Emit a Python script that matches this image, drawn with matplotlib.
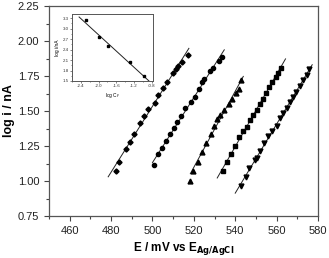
import numpy as np
import matplotlib
matplotlib.use("Agg")
import matplotlib.pyplot as plt
from matplotlib.ticker import MultipleLocator

plt.rcParams['font.family'] = ['Liberation Sans', 'DejaVu Sans']

# Series 1 (diamonds)
e1 = [482.2, 484.0, 487.2, 489.0, 490.9, 494.0, 495.9, 498.0, 501.2, 502.8,
      505.1, 507.0, 509.9, 511.5, 512.5, 514.3, 517.0]
l1 = [1.071, 1.134, 1.226, 1.281, 1.336, 1.414, 1.464, 1.512, 1.559, 1.612,
      1.664, 1.709, 1.771, 1.802, 1.819, 1.852, 1.902]
# Series 2 (circles)
e2 = [500.7, 502.8, 504.7, 506.5, 508.5, 510.4, 512.0, 513.9, 515.8, 518.6,
      520.4, 522.5, 524.1, 525.0, 527.8, 529.4, 532.0, 533.7]
l2 = [1.114, 1.191, 1.234, 1.286, 1.336, 1.376, 1.421, 1.466, 1.519, 1.566,
      1.600, 1.655, 1.705, 1.729, 1.786, 1.805, 1.857, 1.888]
# Series 3 (triangles up)
e3 = [518.2, 519.7, 521.8, 523.8, 525.7, 528.1, 529.7, 531.3, 532.8, 534.7,
      536.8, 538.6, 540.3, 541.8, 542.9]
l3 = [1.000, 1.074, 1.138, 1.209, 1.274, 1.336, 1.393, 1.443, 1.471, 1.507,
      1.550, 1.588, 1.626, 1.655, 1.721]
# Series 4 (squares)
e4 = [534.2, 536.1, 537.9, 539.9, 541.8, 543.6, 545.5, 547.1, 548.7, 550.3,
      551.9, 553.2, 554.8, 556.4, 557.7, 559.5, 560.8, 561.9]
l4 = [1.074, 1.134, 1.190, 1.250, 1.312, 1.359, 1.388, 1.436, 1.471, 1.507,
      1.550, 1.584, 1.626, 1.669, 1.709, 1.745, 1.774, 1.805]
# Series 5 (triangles down)
e5 = [542.8, 545.2, 546.8, 549.5, 550.6, 551.9, 553.9, 555.7, 558.0, 560.0,
      561.6, 563.2, 564.8, 566.4, 567.7, 569.3, 571.3, 572.9, 574.5, 575.8]
l5 = [0.966, 1.031, 1.091, 1.150, 1.162, 1.216, 1.269, 1.324, 1.360, 1.393,
      1.448, 1.484, 1.519, 1.566, 1.602, 1.638, 1.679, 1.721, 1.757, 1.798]
# fit line ranges (mV)
fit_ranges = [(478.6, 517.6), (500.0, 534.7), (518.3, 543.9), (531.3, 564.3), (540.0, 577.2)]
markers = ['D', 'o', '^', 's', 'v']
msizes = [2.6, 3.0, 3.5, 3.0, 3.5]

# Inset data
log_c = [-2.29, -1.99, -1.79, -1.29, -0.98]
log_i = [3.24, 2.76, 2.50, 2.04, 1.65]

fig = plt.figure(figsize=(3.29, 2.58), dpi=100)
ax = fig.add_axes([49/329, 1-216/258, (318-49)/329, (216-6)/258])

series = [(e1, l1), (e2, l2), (e3, l3), (e4, l4), (e5, l5)]
for (e, l), m, ms, (x0, x1) in zip(series, markers, msizes, fit_ranges):
    e = np.array(e); l = np.array(l)
    p = np.polyfit(e, l, 1)
    xx = np.array([x0, x1])
    ax.plot(xx, np.polyval(p, xx), color='#222222', lw=0.7, zorder=2)
    ax.plot(e, l, linestyle='none', marker=m, ms=ms, color='black', zorder=3)

ax.set_xlim(450, 580)
ax.set_ylim(0.75, 2.25)
ax.xaxis.set_major_locator(MultipleLocator(20))
ax.xaxis.set_minor_locator(MultipleLocator(10))
ax.yaxis.set_major_locator(MultipleLocator(0.25))
ax.yaxis.set_minor_locator(MultipleLocator(0.125))
ax.tick_params(which='both', direction='out', colors='#444444', labelcolor='#222222',
               labelsize=8, width=0.8, top=False, right=False)
ax.tick_params(which='major', length=3.5)
ax.tick_params(which='minor', length=2)
ax.yaxis.set_major_formatter(matplotlib.ticker.FormatStrFormatter('%.2f'))
for s in ax.spines.values():
    s.set_color('#555555')
    s.set_linewidth(0.9)
ax.set_xlabel(r'E / mV vs E$_{\mathbf{Ag/AgCl}}$', fontsize=8.5, fontweight='bold', labelpad=3)
ax.set_ylabel('log i / nA', fontsize=9, fontweight='bold', labelpad=2)

# Inset
ins = fig.add_axes([72/329, 1-81/258, (153-72)/329, (81-14)/258])
ins.plot(log_c, log_i, linestyle='none', marker='s', ms=2.0, color='black', zorder=3)
pi = np.polyfit(log_c, log_i, 1)
xi = np.array([-2.44, -0.84])
ins.plot(xi, np.polyval(pi, xi), color='#222222', lw=0.7)
ins.set_xlim(-2.6, -0.77)
ins.set_ylim(1.5, 3.42)
ins.xaxis.set_major_locator(MultipleLocator(0.4))
ins.xaxis.set_minor_locator(MultipleLocator(0.2))
ins.yaxis.set_major_locator(MultipleLocator(0.3))
ins.yaxis.set_minor_locator(MultipleLocator(0.15))
ins.tick_params(which='both', direction='out', labelsize=3.2, width=0.5, colors='#555555',
                labelcolor='#333333', pad=1)
ins.tick_params(which='major', length=1.5)
ins.tick_params(which='minor', length=0.8)
ins.xaxis.set_major_formatter(matplotlib.ticker.FormatStrFormatter('%.1f'))
ins.yaxis.set_major_formatter(matplotlib.ticker.FormatStrFormatter('%.1f'))
for s in ins.spines.values():
    s.set_color('#555555')
    s.set_linewidth(0.7)
ins.set_xlabel(r'log C$_F$', fontsize=3.5, labelpad=1.5)
ins.set_ylabel('log i/nA', fontsize=3.5, labelpad=1.5)

fig.savefig('out.png', dpi=100)
